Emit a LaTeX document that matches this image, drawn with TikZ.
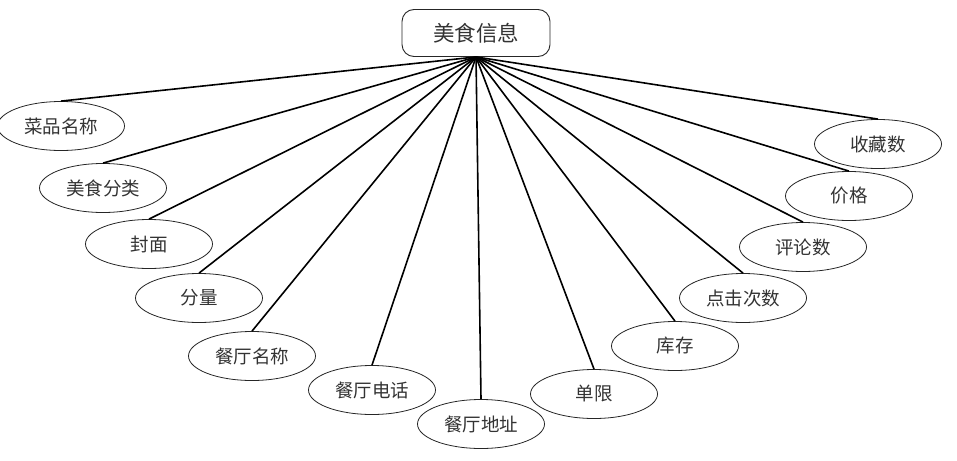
\documentclass[tikz,border=0pt]{standalone}
\usepackage{fontspec}
\newfontfamily\cjk{Noto Sans CJK SC}
\usetikzlibrary{shapes.geometric}
\begin{document}
\begin{tikzpicture}[x=1pt,y=-1pt,
    entity/.style={draw=black!85,line width=0.9pt,rounded corners=12pt,minimum width=148pt,minimum height=47pt,
      inner sep=0pt,font=\cjk\fontsize{21.5}{24}\selectfont,text=black!80},
    attr/.style={draw=black!85,line width=0.8pt,ellipse,minimum width=127pt,minimum height=49pt,
      inner sep=0pt,font=\cjk\fontsize{18.5}{22}\selectfont,text=black!80},
    link/.style={line width=1.6pt,black}]
        \useasboundingbox (0,0) rectangle (957,460);
        % Draw central entity
        \node[entity] (info) at (476,33) {美食信息};
        % Draw attributes on the left
        \node[attr] (dish) at (61,126) {菜品名称};
        \node[attr] (cat) at (103,188) {美食分类};
        \node[attr] (cover) at (149,244) {封面};
        \node[attr] (portion) at (199,298) {分量};
        \node[attr] (rname) at (252,356) {餐厅名称};
        \node[attr] (rtel) at (372,390) {餐厅电话};
        % Draw attribute at the bottom
        \node[attr] (raddr) at (481,424) {餐厅地址};
        % Draw attributes on the right
        \node[attr] (limit) at (594,394) {单限};
        \node[attr] (stock) at (675,346) {库存};
        \node[attr] (clicks) at (743,298) {点击次数};
        \node[attr] (comments) at (803,247) {评论数};
        \node[attr] (price) at (849,196) {价格};
        \node[attr] (favs) at (878,144) {收藏数};
        % Draw links from entity to attributes
        \draw[link] (info.south) -- (dish.north);
        \draw[link] (info.south) -- (cat.north);
        \draw[link] (info.south) -- (cover.north);
        \draw[link] (info.south) -- (portion.north);
        \draw[link] (info.south) -- (rname.north);
        \draw[link] (info.south) -- (rtel.north);
        \draw[link] (info.south) -- (raddr.north);
        \draw[link] (info.south) -- (limit.north);
        \draw[link] (info.south) -- (stock.north);
        \draw[link] (info.south) -- (clicks.north);
        \draw[link] (info.south) -- (comments.north);
        \draw[link] (info.south) -- (price.north);
        \draw[link] (info.south) -- (favs.north);
    \end{tikzpicture}
\end{document}
